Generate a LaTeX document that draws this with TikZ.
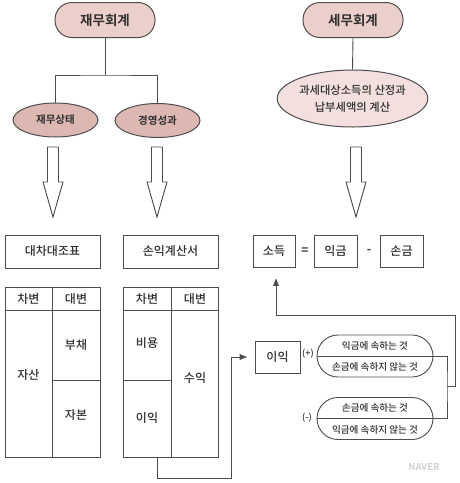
\documentclass[tikz,border=0pt]{standalone}
\usepackage{fontspec}
\setmainfont{Noto Sans CJK KR}[BoldFont={Noto Sans CJK KR Bold}]
\newfontfamily\medfont{Noto Sans CJK KR Medium}
\usetikzlibrary{shapes.geometric,arrows.meta}
\definecolor{ln}{HTML}{4D4D4D}
\definecolor{tx}{HTML}{303030}
\definecolor{pillfill}{HTML}{EBCFCB}
\definecolor{ellfill}{HTML}{DDB8B3}
\definecolor{bigfill}{HTML}{F3E0DE}
\tikzset{
 pill/.style={draw=ln, line width=1pt, rounded corners=17pt, fill=pillfill, minimum width=100pt, minimum height=35pt, inner sep=0pt, font=\bfseries\fontsize{13.5}{15}\selectfont, text=tx},
 oval/.style={ellipse, draw=ln, line width=1pt, fill=ellfill, inner sep=0pt, font=\bfseries\fontsize{10.5}{12}\selectfont, text=tx},
 box/.style={draw=ln, line width=0.9pt, inner sep=0pt, font=\medfont\fontsize{12}{13}\selectfont, text=tx},
 cell/.style={inner sep=0pt, font=\medfont\fontsize{12}{13}\selectfont, text=tx},
 conn/.style={draw=ln, line width=0.9pt},
 arr/.style={-{Latex[length=8pt,width=6.5pt]}},
 hollow/.style={draw=ln, line width=0.9pt, fill=white, line join=miter},
 capsule/.style={draw=ln, line width=0.9pt, rounded corners=21pt, minimum width=116pt, minimum height=42pt, inner sep=0pt},
 small/.style={font=\medfont\fontsize{9.6}{10}\selectfont, text=tx, inner sep=0pt},
}
\begin{document}
\begin{tikzpicture}[x=1pt,y=-1pt]
\useasboundingbox (0,0) rectangle (460,483);
\fill[white] (0,0) rectangle (460,483);

% --- top left: financial accounting
\node[pill] (fa) at (105,20) {재무회계};
\node[oval, minimum width=85pt, minimum height=34pt] (fs) at (55.5,120) {재무상태};
\node[oval, minimum width=85pt, minimum height=34pt] (op) at (157.5,120.5) {경영성과};
\coordinate (j1) at (105,75);
\draw[conn] (fa.south) -- (j1);
\draw[conn] (fs.north) |- (j1) -| (op.north);

% --- top right: tax accounting
\node[pill] (ta) at (353,20) {세무회계};
\node[oval, fill=bigfill, minimum width=149pt, minimum height=57pt, align=center,
      font=\medfont\fontsize{11.3}{17}\selectfont] (tc) at (352.5,98.5) {과세대상소득의 산정과\\납부세액의 계산};
\draw[conn] (ta.south) -- (tc.north);

% --- hollow arrows
\foreach \cx in {53,157,356}{
  \draw[hollow] ({\cx-5.5},147) -- ({\cx+5.5},147) -- ({\cx+5.5},182) -- ({\cx+10},182)
     -- (\cx,217) -- ({\cx-10},182) -- ({\cx-5.5},182) -- cycle;
}

% --- statement titles
\node[box, minimum width=95pt, minimum height=33pt] (bs) at (52.5,251.5) {대차대조표};
\node[box, minimum width=95pt, minimum height=33pt] (is) at (170.5,251.5) {손익계산서};

% --- table 1
\draw[conn] (5,287) rectangle (100,457);
\draw[conn] (52,287) -- (52,457);
\draw[conn] (5,310) -- (100,310);
\draw[conn] (52,380) -- (100,380);
\node[cell] (t1a) at (28.5,299) {차변};
\node[cell] (t1b) at (76,299) {대변};
\node[cell] (t1c) at (76,345) {부채};
\node[cell] (t1d) at (28.5,375) {자산};
\node[cell] (t1e) at (76,415) {자본};

% --- table 2
\draw[conn] (123,287) rectangle (218,457);
\draw[conn] (171,287) -- (171,457);
\draw[conn] (123,310) -- (218,310);
\draw[conn] (123,380) -- (171,380);
\node[cell] (t2a) at (147,299) {차변};
\node[cell] (t2b) at (195,299) {대변};
\node[cell] (t2c) at (147,343) {비용};
\node[cell] (t2d) at (195,378) {수익};
\node[cell] (t2e) at (147,418) {이익};
\coordinate (t2bot) at (157,457);

% --- income equation
\node[box, minimum width=42pt, minimum height=32pt] (sd) at (274,251.5) {소득};
\node[box, minimum width=43pt, minimum height=32pt] (ig) at (335.5,251.5) {익금};
\node[box, minimum width=43pt, minimum height=32pt] (sg) at (401.5,251.5) {손금};
\node[cell, font=\bfseries\fontsize{12}{13}\selectfont] (eq) at (305,251) {=};
\node[cell, font=\bfseries\fontsize{12}{13}\selectfont] (mi) at (369,251) {-};

% --- profit and adjustments
\node[box, minimum width=45pt, minimum height=32pt] (ik) at (277.5,357) {이익};
\node[capsule] (p1) at (375,356) {};
\node[capsule] (p2) at (375,418.5) {};
\draw[conn] (p1.west) -- (p1.east);
\draw[conn] (p2.west) -- (p2.east);
\node[small] (p1a) at (375,345.5) {익금에 속하는 것};
\node[small] (p1b) at (375,367) {손금에 속하지 않는 것};
\node[small] (p2a) at (375,408) {손금에 속하는 것};
\node[small] (p2b) at (375,429.5) {익금에 속하지 않는 것};
\node[small, font=\medfont\fontsize{9}{10}\selectfont] (pl) at (308,354) {(+)};
\node[small, font=\medfont\fontsize{9}{10}\selectfont] (mn) at (307,418) {(-)};

% --- connectors
\coordinate (jn) at (447,386);
\draw[conn] (p1.east) -| (jn) |- (p2.east);
\draw[conn, arr] (jn) -- (455,386) |- (276,315) -- ([xshift=2pt,yshift=-10pt]sd.south);
\draw[conn, arr] (t2bot) |- (231,478) |- ([xshift=-7pt]ik.west);

% --- watermark
\node[font=\bfseries\fontsize{9.5}{10}\selectfont, text=gray!35] (wm) at (424,467) {NAVER};
\end{tikzpicture}
\end{document}
